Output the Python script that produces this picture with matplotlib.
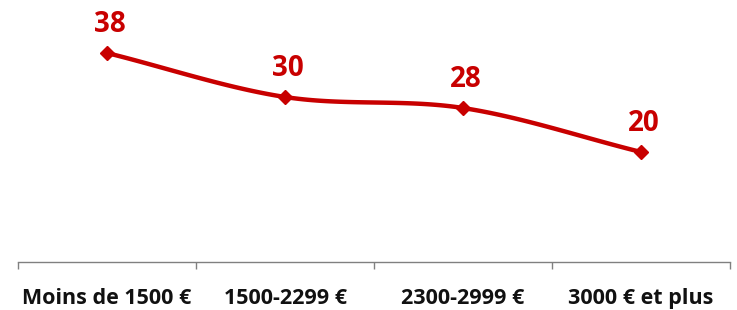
import numpy as np
import matplotlib.pyplot as plt

categories = ["Moins de 1500 €", "1500-2299 €", "2300-2999 €", "3000 € et plus"]
values = [38, 30, 28, 20]

red = "#C80000"

def smooth(x, y, n=40):
    # Catmull-Rom curve through the points (like Excel's smoothed line)
    x = np.asarray(x, float)
    y = np.asarray(y, float)
    px = np.concatenate([[2 * x[0] - x[1]], x, [2 * x[-1] - x[-2]]])
    py = np.concatenate([[2 * y[0] - y[1]], y, [2 * y[-1] - y[-2]]])
    xs, ys = [], []
    t = np.linspace(0, 1, n)
    for i in range(1, len(px) - 2):
        for p, out in ((px, xs), (py, ys)):
            p0, p1, p2, p3 = p[i - 1], p[i], p[i + 1], p[i + 2]
            out.extend(0.5 * (2 * p1 + (-p0 + p2) * t
                              + (2 * p0 - 5 * p1 + 4 * p2 - p3) * t ** 2
                              + (-p0 + 3 * p1 - 3 * p2 + p3) * t ** 3))
    return np.array(xs), np.array(ys)

x = np.arange(len(categories))

fig = plt.figure(figsize=(7.37, 3.10), dpi=100)
ax = fig.add_axes([18 / 737, 1 - 262 / 310, 712 / 737, 220 / 310])

sx, sy = smooth(x, values)
ax.plot(sx, sy, color=red, lw=3.2, solid_capstyle="round")
ax.plot(x, values, linestyle="none", marker="D", color=red, markersize=7)

for xi, v in zip(x, values):
    ax.annotate(str(v), (xi, v), xytext=(2, 10), textcoords="offset points",
                ha="center", va="bottom", color=red, fontsize=20,
                fontweight="bold", family="Open Sans", annotation_clip=False)

ax.set_xlim(-0.5, 3.5)
ax.set_ylim(0, 40)
ax.set_yticks([])
for s in ["top", "right", "left"]:
    ax.spines[s].set_visible(False)
ax.spines["bottom"].set_color("#808080")
ax.spines["bottom"].set_linewidth(1)

ax.set_xticks(np.arange(-0.5, 4, 1))
ax.set_xticklabels([])
ax.tick_params(axis="x", which="major", length=5, color="#808080", width=1)
ax.set_xticks(x, minor=True)
ax.set_xticklabels(categories, minor=True, fontsize=15.5, fontweight="bold",
                   family="Open Sans", color="#111111")
ax.tick_params(axis="x", which="minor", length=0, pad=19)

fig.savefig("out.png", dpi=100)
